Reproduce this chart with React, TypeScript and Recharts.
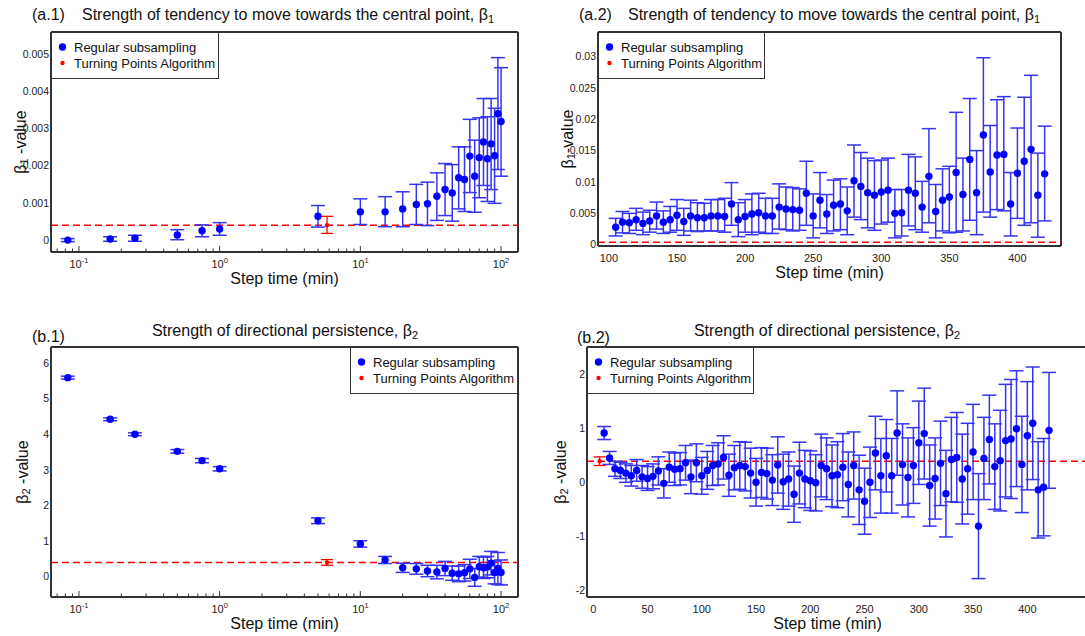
import React from 'react';
import { ScatterChart, Scatter, XAxis, YAxis, ErrorBar, ReferenceLine, Legend } from 'recharts';

// step times (min) used for the log-scale panels (a.1) and (b.1)
const shortTimes = [0.0833, 0.1667, 0.25, 0.5, 0.75, 1, 5, 10, 15, 20, 25, 30, 35, 40, 45, 50, 55, 60, 65, 70, 75, 80, 85, 90, 95, 100];

// (a.1) beta1, with lower / upper ends of the error bars
const a1Beta = [0.0, 0.00003, 0.00005, 0.00014, 0.00025, 0.0003, 0.00064, 0.00076, 0.00076, 0.00084, 0.00096, 0.00098, 0.00118, 0.00136, 0.00127, 0.00168, 0.00163, 0.00226, 0.00172, 0.00222, 0.00264, 0.00219, 0.00259, 0.00227, 0.0034, 0.00319];
const a1Low = [-0.00004, -0.00003, -0.00003, 0.00001, 0.00009, 0.00013, 0.00035, 0.00042, 0.00036, 0.00036, 0.00042, 0.00039, 0.00053, 0.00066, 0.00051, 0.00084, 0.00077, 0.00128, 0.00075, 0.00114, 0.00147, 0.00104, 0.00136, 0.00099, 0.0019, 0.00172];
const a1High = [0.00004, 0.00009, 0.00013, 0.00028, 0.00041, 0.00047, 0.00093, 0.00111, 0.00117, 0.0013, 0.0015, 0.00156, 0.00181, 0.00206, 0.00203, 0.00251, 0.00251, 0.00325, 0.00269, 0.00329, 0.00381, 0.00332, 0.00381, 0.00355, 0.00491, 0.00464];

// (a.2) long step times
const longTimes = [105, 110, 115, 120, 125, 130, 135, 140, 145, 150, 155, 160, 165, 170, 175, 180, 185, 190, 195, 200, 205, 210, 215, 220, 225, 230, 235, 240, 245, 250, 255, 260, 265, 270, 275, 280, 285, 290, 295, 300, 305, 310, 315, 320, 325, 330, 335, 340, 345, 350, 355, 360, 365, 370, 375, 380, 385, 390, 395, 400, 405, 410, 415, 420];
const a2Beta = [0.0028, 0.0036, 0.0035, 0.004, 0.0034, 0.0038, 0.0046, 0.0036, 0.004, 0.0047, 0.0037, 0.0046, 0.0043, 0.0043, 0.0046, 0.0046, 0.0045, 0.0065, 0.004, 0.0045, 0.0049, 0.0051, 0.0046, 0.0046, 0.006, 0.0057, 0.0056, 0.0055, 0.0082, 0.0046, 0.0071, 0.0049, 0.0063, 0.0065, 0.0054, 0.0102, 0.0093, 0.0083, 0.0079, 0.0084, 0.0087, 0.005, 0.0051, 0.0087, 0.0082, 0.006, 0.0109, 0.0053, 0.0071, 0.0076, 0.0115, 0.008, 0.0136, 0.0083, 0.0175, 0.0116, 0.0143, 0.0144, 0.0065, 0.0114, 0.0133, 0.0152, 0.0079, 0.0113];
const a2Low = [0.0014, 0.0019, 0.0018, 0.0023, 0.0016, 0.002, 0.0025, 0.0018, 0.002, 0.0023, 0.0015, 0.0022, 0.0021, 0.0022, 0.0022, 0.0022, 0.002, 0.0031, 0.0013, 0.002, 0.0016, 0.002, 0.0018, 0.0018, 0.0025, 0.0024, 0.0022, 0.0023, 0.0031, 0.0011, 0.0027, 0.0018, 0.0022, 0.0024, 0.0016, 0.0044, 0.004, 0.0027, 0.0023, 0.0033, 0.0036, 0.0011, 0.0014, 0.003, 0.0024, 0.002, 0.0035, 0.0011, 0.0022, 0.0019, 0.002, 0.0022, 0.0039, 0.0016, 0.0052, 0.0044, 0.0056, 0.0054, 0.0014, 0.0042, 0.0031, 0.0035, 0.0012, 0.0038];
const a2High = [0.0042, 0.0053, 0.005, 0.0058, 0.0052, 0.0055, 0.0068, 0.0054, 0.0061, 0.0072, 0.0058, 0.0071, 0.0067, 0.0066, 0.0072, 0.0072, 0.0074, 0.0099, 0.0067, 0.0072, 0.0081, 0.0082, 0.0074, 0.0074, 0.0097, 0.0092, 0.0091, 0.0089, 0.0133, 0.0081, 0.0115, 0.008, 0.0103, 0.0105, 0.0092, 0.0159, 0.0147, 0.0138, 0.0134, 0.0135, 0.0138, 0.0088, 0.0088, 0.0144, 0.014, 0.0101, 0.0185, 0.0096, 0.0121, 0.0125, 0.0211, 0.0138, 0.0233, 0.015, 0.0298, 0.019, 0.0231, 0.0236, 0.0115, 0.0186, 0.0235, 0.027, 0.0146, 0.0189];

// (b.1) beta2, symmetric errors
const b1Beta = [5.59, 4.42, 4.0, 3.52, 3.26, 3.03, 1.57, 0.92, 0.47, 0.25, 0.22, 0.16, 0.13, 0.23, 0.1, 0.08, 0.11, 0.22, -0.02, 0.28, 0.25, 0.27, 0.38, 0.12, 0.23, 0.12];
const b1Err = [0.04, 0.04, 0.04, 0.05, 0.06, 0.06, 0.08, 0.09, 0.1, 0.13, 0.15, 0.16, 0.19, 0.2, 0.2, 0.22, 0.23, 0.27, 0.25, 0.29, 0.3, 0.3, 0.33, 0.32, 0.45, 0.35];

// (b.2)
const b2Times = [10, 15, 20, 25, 30, 35, 40, 45, 50, 55, 60, 65, 70, 75, 80, 85, 90, 95, 100, 105, 110, 115, 120, 125, 130, 135, 140, 145, 150, 155, 160, 165, 170, 175, 180, 185, 190, 195, 200, 205, 210, 215, 220, 225, 230, 235, 240, 245, 250, 255, 260, 265, 270, 275, 280, 285, 290, 295, 300, 305, 310, 315, 320, 325, 330, 335, 340, 345, 350, 355, 360, 365, 370, 375, 380, 385, 390, 395, 400, 405, 410, 415, 420];
const b2Beta = [0.91, 0.45, 0.25, 0.22, 0.17, 0.12, 0.22, 0.1, 0.07, 0.11, 0.21, -0.02, 0.28, 0.24, 0.25, 0.36, 0.1, 0.36, 0.12, 0.22, 0.31, 0.34, 0.46, 0.13, 0.27, 0.31, 0.29, 0.17, 0.0, 0.18, 0.16, 0.04, 0.32, 0.01, 0.06, -0.22, 0.17, 0.06, 0.03, -0.01, 0.31, 0.25, 0.12, 0.14, 0.28, -0.04, 0.31, -0.14, -0.35, 0.0, 0.54, 0.12, 0.49, 0.12, 0.91, 0.33, 0.09, 0.31, 0.73, 0.9, -0.06, 0.07, 0.35, -0.21, 0.42, 0.46, 0.06, 0.25, 0.56, -0.81, 0.44, 0.79, 0.29, 0.4, 0.77, 0.8, 0.99, 0.33, 0.86, 1.09, -0.14, -0.09, 0.96];
const b2Err = [0.12, 0.12, 0.14, 0.15, 0.17, 0.19, 0.2, 0.21, 0.22, 0.23, 0.26, 0.27, 0.28, 0.3, 0.3, 0.32, 0.31, 0.35, 0.34, 0.35, 0.37, 0.39, 0.4, 0.39, 0.41, 0.44, 0.45, 0.46, 0.44, 0.46, 0.47, 0.47, 0.52, 0.51, 0.5, 0.52, 0.57, 0.53, 0.55, 0.52, 0.58, 0.57, 0.57, 0.61, 0.62, 0.6, 0.62, 0.64, 0.61, 0.65, 0.68, 0.69, 0.67, 0.69, 0.78, 0.75, 0.73, 0.7, 0.77, 0.84, 0.75, 0.75, 0.78, 0.8, 0.78, 0.83, 0.83, 0.84, 0.88, 0.97, 0.76, 0.82, 0.79, 0.93, 1.04, 1.1, 1.07, 0.89, 1.0, 1.04, 0.89, 0.9, 1.07];

// Turning Points Algorithm estimates: [step time, value, lower, upper]
const tpaBeta1 = [5.8, 0.0004, 0.00018, 0.00064];
const tpaBeta1Long = 0.0004;
const tpaBeta2 = [5.8, 0.39, 0.31, 0.47];

// axis ticks
const logMajor = [0.1, 1, 10, 100];
const logMajorExp = ['-1', '0', '1', '2'];
const logMinor = [0.07, 0.08, 0.09, 0.2, 0.3, 0.4, 0.5, 0.6, 0.7, 0.8, 0.9, 2, 3, 4, 5, 6, 7, 8, 9, 20, 30, 40, 50, 60, 70, 80, 90];
const a1YTicks = [0, 0.001, 0.002, 0.003, 0.004, 0.005];
const a1YLabels = ['0', '0.001', '0.002', '0.003', '0.004', '0.005'];
const a2YTicks = [0, 0.005, 0.01, 0.015, 0.02, 0.025, 0.03];
const a2YLabels = ['0', '0.005', '0.01', '0.015', '0.02', '0.025', '0.03'];
const a2XTicks = [100, 150, 200, 250, 300, 350, 400];
const b1YTicks = [0, 1, 2, 3, 4, 5, 6];
const b2YTicks = [-2, -1, 0, 1, 2];
const b2XTicks = [0, 50, 100, 150, 200, 250, 300, 350, 400];

const FONT = '"Liberation Sans", Arial, Helvetica, sans-serif';
const BLUE = '#0000ff';
const BAR_BLUE = '#3434f4';
const RED = '#ff0000';
const FRAME = '#333333';

const asym = (xs: number[], ys: number[], lo: number[], hi: number[]) =>
  xs.map((x, i) => ({ x, y: ys[i], err: [ys[i] - lo[i], hi[i] - ys[i]] }));
const sym = (xs: number[], ys: number[], e: number[]) =>
  xs.map((x, i) => ({ x, y: ys[i], err: [e[i], e[i]] }));
const tpaRow = (t: number[]) => [{ x: t[0], y: t[1], err: [t[1] - t[2], t[3] - t[1]] }];

const blueDot = (p: any) => <circle cx={p.cx} cy={p.cy} r={3.7} fill={BLUE} />;
const redDot = (p: any) => <circle cx={p.cx} cy={p.cy} r={2.2} fill={RED} />;

const LogTick = (p: any) => {
  const v = p.payload.value;
  const k = logMajor.indexOf(v);
  return (
    <g>
      <line x1={p.x} x2={p.x} y1={p.y} y2={p.y - (k >= 0 ? 6 : 3.5)} stroke={FRAME} strokeWidth={1} />
      {k >= 0 && (
        <text x={p.x} y={p.y + 16} textAnchor="middle" fontSize={11} fill="#222" fontFamily={FONT}>
          10<tspan dy={-5} fontSize={7.5}>{logMajorExp[k]}</tspan>
        </text>
      )}
    </g>
  );
};

const LinTick = (p: any) => (
  <text x={p.x} y={p.y + 16} textAnchor="middle" fontSize={11} fill="#222" fontFamily={FONT}>
    {String(p.payload.value)}
  </text>
);

const yTick = (ticks: number[], labels?: string[]) => (p: any) => {
  const i = ticks.indexOf(p.payload.value);
  return (
    <text x={p.x - 2} y={p.y} dy="0.35em" textAnchor="end" fontSize={10.5} fill="#222" fontFamily={FONT}>
      {labels ? labels[i] : String(p.payload.value)}
    </text>
  );
};

const yTitle = (sub: string, gap: boolean, dx: number) => (props: any) => {
  const vb = props.viewBox;
  const x = vb.x + dx;
  const y = vb.y + vb.height / 2;
  return (
    <text x={x} y={y} transform={`rotate(-90 ${x} ${y})`} textAnchor="middle" dominantBaseline="central" fontSize={16} fill="#111" fontFamily={FONT}>
      β<tspan dy={4} fontSize={11}>{sub}</tspan>
      <tspan dy={-4}>{gap ? ' -value' : '-value'}</tspan>
    </text>
  );
};

const xTitle = (dx: number) => (props: any) => {
  const vb = props.viewBox;
  return (
    <text x={vb.x + vb.width / 2 + dx} y={vb.y + 32} textAnchor="middle" fontSize={16} fill="#111" fontFamily={FONT}>
      Step time (min)
    </text>
  );
};

const LegendBox = ({ width }: { width: number }) => (
  <div style={{ width, height: 47, boxSizing: 'border-box', border: `1.5px solid ${FRAME}`, background: '#fff', padding: '6px 0 0 6px', fontFamily: FONT, fontSize: 13, color: '#111' }}>
    <div style={{ display: 'flex', alignItems: 'center', height: 16 }}>
      <svg width={16} height={12}><circle cx={4.5} cy={6} r={3.7} fill={BLUE} /></svg>
      <span>Regular subsampling</span>
    </div>
    <div style={{ display: 'flex', alignItems: 'center', height: 16 }}>
      <svg width={16} height={12}><circle cx={4.5} cy={6} r={2.2} fill={RED} /></svg>
      <span>Turning Points Algorithm</span>
    </div>
  </div>
);

interface PanelProps {
  left: number; top: number; width: number; height: number;
  margin: { top: number; right: number; bottom: number; left: number };
  yWidth: number; xHeight: number;
  log: boolean; xDomain: number[]; xTicks: number[];
  yDomain: number[]; yTicks: number[]; yLabels?: string[];
  blue: any[]; red?: any[]; refY: number;
  legend: { left: number; top: number; width: number };
  sub: string; gap: boolean; yTitleDx: number; xTitleDx: number;
}

function Panel(p: PanelProps) {
  return (
    <div style={{ position: 'absolute', left: p.left, top: p.top }}>
      <ScatterChart width={p.width} height={p.height} margin={p.margin}>
        <XAxis
          dataKey="x" type="number" scale={p.log ? 'log' : 'linear'} domain={p.xDomain} allowDataOverflow
          ticks={p.xTicks} interval={0} tickSize={0} tickMargin={0} tickLine={false}
          tick={p.log ? LogTick : LinTick} height={p.xHeight}
          axisLine={{ stroke: FRAME, strokeWidth: 2 }} label={xTitle(p.xTitleDx)}
        />
        <YAxis
          dataKey="y" type="number" domain={p.yDomain} allowDataOverflow ticks={p.yTicks} interval={0}
          tickSize={0} tickMargin={0} tickLine={false} tick={yTick(p.yTicks, p.yLabels)} width={p.yWidth}
          axisLine={{ stroke: FRAME, strokeWidth: 2 }} label={yTitle(p.sub, p.gap, p.yTitleDx)}
        />
        {/* top and right edges of the frame */}
        <ReferenceLine y={p.yDomain[1]} stroke={FRAME} strokeWidth={2} />
        <ReferenceLine x={p.xDomain[1]} stroke={FRAME} strokeWidth={2} />
        <ReferenceLine y={p.refY} stroke={RED} strokeWidth={1.5} strokeDasharray="7 4" />
        <Scatter data={p.blue} shape={blueDot} isAnimationActive={false}>
          <ErrorBar dataKey="err" direction="y" width={7} stroke={BAR_BLUE} strokeWidth={1.5} isAnimationActive={false} />
        </Scatter>
        {p.red && (
          <Scatter data={p.red} shape={redDot} isAnimationActive={false}>
            <ErrorBar dataKey="err" direction="y" width={6} stroke={RED} strokeWidth={1.3} isAnimationActive={false} />
          </Scatter>
        )}
        <Legend
          layout="horizontal" verticalAlign="middle" align="center"
          wrapperStyle={{ left: p.legend.left, top: p.legend.top, width: 'auto', height: 'auto' }}
          content={() => <LegendBox width={p.legend.width} />}
        />
      </ScatterChart>
    </div>
  );
}

const titleStyle: React.CSSProperties = { position: 'absolute', fontFamily: FONT, fontSize: 16, lineHeight: '18px', color: '#111', whiteSpace: 'nowrap' };
const Beta = ({ n }: { n: string }) => (
  <span>β<sub style={{ fontSize: 11, verticalAlign: '-3px', lineHeight: 0 }}>{n}</sub></span>
);

export default function App() {
  const logTicks = [...logMajor, ...logMinor].sort((a, b) => a - b);
  return (
    <div style={{ position: 'absolute', left: 0, top: 0, width: 1085, height: 636, overflow: 'hidden', background: '#fff' }}>
      <div style={{ ...titleStyle, left: 32, top: 6 }}>(a.1)</div>
      <div style={{ ...titleStyle, left: 82, top: 6 }}>Strength of tendency to move towards the central point, <Beta n="1" /></div>
      <div style={{ ...titleStyle, left: 579, top: 6 }}>(a.2)</div>
      <div style={{ ...titleStyle, left: 628, top: 6 }}>Strength of tendency to move towards the central point, <Beta n="1" /></div>
      <div style={{ ...titleStyle, left: 32, top: 328 }}>(b.1)</div>
      <div style={{ ...titleStyle, left: 85, width: 400, textAlign: 'center', top: 322 }}>Strength of directional persistence, <Beta n="2" /></div>
      <div style={{ ...titleStyle, left: 577, top: 329 }}>(b.2)</div>
      <div style={{ ...titleStyle, left: 627, width: 400, textAlign: 'center', top: 322 }}>Strength of directional persistence, <Beta n="2" /></div>

      <Panel
        left={0} top={0} width={540} height={300} margin={{ top: 32, right: 22, bottom: 0, left: 0 }}
        yWidth={51} xHeight={48} log xDomain={[0.0633, 132]} xTicks={logTicks}
        yDomain={[-0.00032, 0.0056]} yTicks={a1YTicks} yLabels={a1YLabels}
        blue={asym(shortTimes, a1Beta, a1Low, a1High)} red={tpaRow(tpaBeta1)} refY={tpaBeta1[1]}
        legend={{ left: 51, top: 32, width: 168 }} sub="1" gap yTitleDx={20} xTitleDx={0}
      />
      <Panel
        left={540} top={0} width={545} height={300} margin={{ top: 32, right: 24, bottom: 0, left: 0 }}
        yWidth={58} xHeight={54} log={false} xDomain={[92, 432]} xTicks={a2XTicks}
        yDomain={[-0.0002, 0.0339]} yTicks={a2YTicks} yLabels={a2YLabels}
        blue={asym(longTimes, a2Beta, a2Low, a2High)} refY={tpaBeta1Long}
        legend={{ left: 58, top: 32, width: 167 }} sub="1" gap={false} yTitleDx={27} xTitleDx={0}
      />
      <Panel
        left={0} top={310} width={540} height={326} margin={{ top: 37, right: 22, bottom: 0, left: 0 }}
        yWidth={51} xHeight={39} log xDomain={[0.0633, 132]} xTicks={logTicks}
        yDomain={[-0.57, 6.45]} yTicks={b1YTicks}
        blue={sym(shortTimes, b1Beta, b1Err)} red={tpaRow([tpaBeta2[0], 0.4, 0.32, 0.48])} refY={0.4}
        legend={{ left: 350, top: 37, width: 168 }} sub="2" gap yTitleDx={22} xTitleDx={0}
      />
      <Panel
        left={540} top={310} width={560} height={326} margin={{ top: 37, right: 8, bottom: 0, left: 0 }}
        yWidth={47} xHeight={39} log={false} xDomain={[-5.8, 459.6]} xTicks={b2XTicks}
        yDomain={[-2.12, 2.5]} yTicks={b2YTicks}
        blue={sym(b2Times, b2Beta, b2Err)} red={tpaRow(tpaBeta2)} refY={tpaBeta2[1]}
        legend={{ left: 47, top: 37, width: 167 }} sub="2" gap yTitleDx={20} xTitleDx={-12}
      />
    </div>
  );
}
